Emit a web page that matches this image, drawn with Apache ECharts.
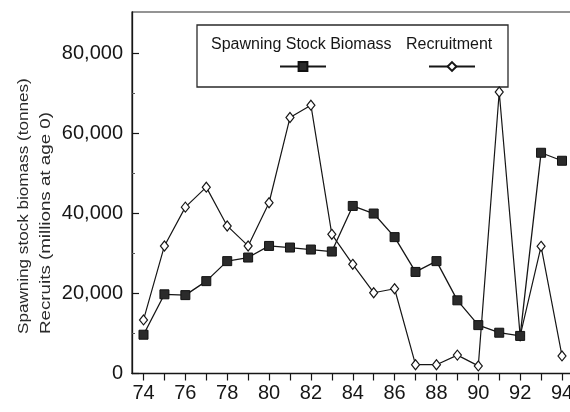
<!DOCTYPE html>
<html>
<head>
<meta charset="utf-8">
<script src="https://cdn.jsdelivr.net/npm/echarts@6/dist/echarts.min.js"></script>
<style>
  html, body { margin: 0; padding: 0; background: #fff; }
  #chart { width: 570px; height: 412px; }
</style>
</head>
<body>
<div id="chart"></div>
<script>
// Years (19xx) on the x axis
const years = [74, 75, 76, 77, 78, 79, 80, 81, 82, 83, 84, 85, 86, 87, 88, 89, 90, 91, 92, 93, 94];
const yearLabels = [74, 76, 78, 80, 82, 84, 86, 88, 90, 92, 94];

// Spawning stock biomass (tonnes)
const ssb = [9700, 19800, 19600, 23100, 28100, 29000, 31900, 31500, 31000, 30500, 41900,
             40000, 34100, 25400, 28100, 18300, 12100, 10200, 9400, 55200, 53200];

// Recruits (millions at age 0)
const recruits = [13400, 31900, 41600, 46600, 36900, 31900, 42700, 64000, 67100, 34800, 27300,
                  20200, 21200, 2200, 2200, 4600, 1900, 70400, 9400, 31800, 4400];

const yMajor = [0, 20000, 40000, 60000, 80000];
const yMinor = [10000, 30000, 50000, 70000];

const seriesNames = ['Spawning Stock Biomass', 'Recruitment'];
const yTitle1 = 'Spawning stock biomass (tonnes)';
const yTitle2 = 'Recruits (millions at age 0)';

const FONT = 'Arial, "Liberation Sans", sans-serif';
const INK = '#161616';

const chart = echarts.init(document.getElementById('chart'), null, { renderer: 'canvas' });

const pair = (xs, ys) => xs.map((x, i) => [x, ys[i]]);

chart.setOption({
  animation: false,
  backgroundColor: '#fff',
  grid: {
    left: 132, top: 12, right: -1, bottom: 38.5,
    show: true, borderColor: '#2a2a2a', borderWidth: 1.2,
    backgroundColor: 'transparent',
    outerBoundsMode: 'none'
  },
  xAxis: {
    type: 'value',
    min: 73.45, max: 94.43,
    splitLine: { show: false },
    axisLine: { show: true, lineStyle: { color: INK, width: 1.3 } },
    axisTick: { show: true, inside: false, length: 7, customValues: years,
                lineStyle: { color: INK, width: 1.2 } },
    axisLabel: { customValues: yearLabels, margin: 10, color: INK,
                 fontSize: 20, fontFamily: FONT, formatter: v => String(v) }
  },
  yAxis: [{
    type: 'value',
    min: 0, max: 90400,
    splitLine: { show: false },
    axisLine: { show: true, lineStyle: { color: INK, width: 1.3 } },
    axisTick: { show: true, inside: true, length: 7, customValues: yMajor,
                lineStyle: { color: INK, width: 1.2 } },
    axisLabel: { customValues: yMajor, margin: 9, color: INK, fontSize: 20, fontFamily: FONT,
                 formatter: v => v.toLocaleString('en-US') }
  }, {
    type: 'value',
    min: 0, max: 90400,
    position: 'left',
    splitLine: { show: false },
    axisLine: { show: false },
    axisTick: { show: true, inside: true, length: 3, customValues: yMinor,
                lineStyle: { color: '#555', width: 1 } },
    axisLabel: { show: false }
  }],
  legend: [{
    data: [seriesNames[0]],
    left: 279, top: 61,
    itemWidth: 46, itemHeight: 11,
    padding: 0,
    selectedMode: false,
    formatter: () => ''
  }, {
    data: [seriesNames[1]],
    left: 428, top: 61,
    itemWidth: 46, itemHeight: 11,
    padding: 0,
    selectedMode: false,
    formatter: () => ''
  }],
  graphic: [
    {
      type: 'rect', z: 0,
      shape: { x: 197, y: 25, width: 311, height: 62 },
      style: { fill: '#fff', stroke: '#2a2a2a', lineWidth: 1.3 }
    },
    {
      type: 'text', x: 211, y: 45, z: 1,
      style: { text: seriesNames[0], font: '16px ' + FONT, fill: INK,
               align: 'left', verticalAlign: 'middle' }
    },
    {
      type: 'text', x: 406, y: 45, z: 1,
      style: { text: seriesNames[1], font: '16px ' + FONT, fill: INK,
               align: 'left', verticalAlign: 'middle' }
    },
    {
      type: 'text', x: 24, y: 334, rotation: Math.PI / 2, scaleX: 1.14,
      style: { text: yTitle1, font: '15px ' + FONT, fill: '#2a2a2a',
               align: 'left', verticalAlign: 'middle' }
    },
    {
      type: 'text', x: 45.5, y: 334, rotation: Math.PI / 2, scaleX: 1.25,
      style: { text: yTitle2, font: '15px ' + FONT, fill: '#2a2a2a',
               align: 'left', verticalAlign: 'middle' }
    }
  ],
  series: [{
    name: seriesNames[0],
    type: 'line',
    data: pair(years, ssb),
    symbol: 'rect',
    symbolSize: 9,
    z: 3,
    lineStyle: { color: INK, width: 1.3 },
    itemStyle: { color: '#2b2b2b', borderColor: '#111', borderWidth: 1 }
  }, {
    name: seriesNames[1],
    type: 'line',
    data: pair(years, recruits),
    symbol: 'diamond',
    symbolSize: [8, 10],
    z: 2,
    lineStyle: { color: INK, width: 1.2 },
    itemStyle: { color: '#fff', borderColor: INK, borderWidth: 1.2 }
  }]
});
</script>
</body>
</html>
